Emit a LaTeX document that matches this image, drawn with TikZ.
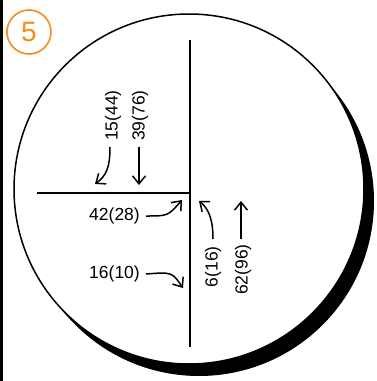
\documentclass[tikz,border=0pt]{standalone}
\usepackage{fontspec}
\setmainfont{Liberation Sans}
\usetikzlibrary{arrows.meta}
\definecolor{badge}{RGB}{247,140,20}
\tikzset{
  lbl/.style={inner sep=0pt, font=\fontsize{17.5}{18}\selectfont},
  vlbl/.style={lbl, rotate=90},
  flow/.style={line width=1.5pt, -{Straight Barb[length=8pt,width=13pt,line width=1.5pt]}},
  wall/.style={line width=2pt},
}
\begin{document}
\begin{tikzpicture}[x=1pt,y=-1pt]
\useasboundingbox (0,0) rectangle (377,381);
\fill[white] (0,0) rectangle (377,381);
% left edge bar
\fill[black] (0,0) rectangle (3,381);
% shadow + circle
\fill[black] (199,201) circle[radius=175];
\filldraw[fill=white, draw=black, line width=1.5pt] (189,189) circle[radius=175];
% badge
\node[circle, draw=badge, line width=1.6pt, minimum size=44pt, inner sep=0pt,
      text=badge, font=\fontsize{28}{30}\selectfont] (badge) at (29,32) {5};
% walls
\coordinate (vtop) at (190,40);
\coordinate (vbot) at (190,347);
\coordinate (hleft) at (37,193);
\coordinate (hmid) at (190,193);
\draw[wall] (vtop) -- (vbot);
\draw[wall] (hleft) -- (hmid);
% labels
\node[vlbl, anchor=west] (a) at (113,141) {15(44)};
\node[vlbl, anchor=west] (b) at (140,141) {39(76)};
\node[lbl, anchor=east] (c) at (140,216) {42(28)};
\node[lbl, anchor=east] (d) at (140,274) {16(10)};
\node[vlbl, anchor=east] (e) at (213,246) {6(16)};
\node[vlbl, anchor=east] (f) at (243,244) {62(96)};
% arrow ends
\coordinate (ae) at (95,184);
\coordinate (be) at (139,185);
\coordinate (ce) at (182,200);
\coordinate (de) at (183,288);
\coordinate (ee) at (199,201);
\coordinate (fe) at (241,201);
% arrows
\draw[flow] ([shift={(-3,6)}]a.west) .. controls (110,168) and (106,176) .. (ae);
\draw[flow] ([shift={(-1,6)}]b.west) -- (be);
\draw[flow] ([shift={(6,0)}]c.east) .. controls (168,216) .. (ce);
\draw[flow] ([shift={(6,0)}]d.east) .. controls (172,272) .. (de);
\draw[flow] ([shift={(0,-7)}]e.east) .. controls (213,220) and (209,209) .. (ee);
\draw[flow] ([shift={(-2,-5)}]f.east) -- (fe);
\end{tikzpicture}
\end{document}
